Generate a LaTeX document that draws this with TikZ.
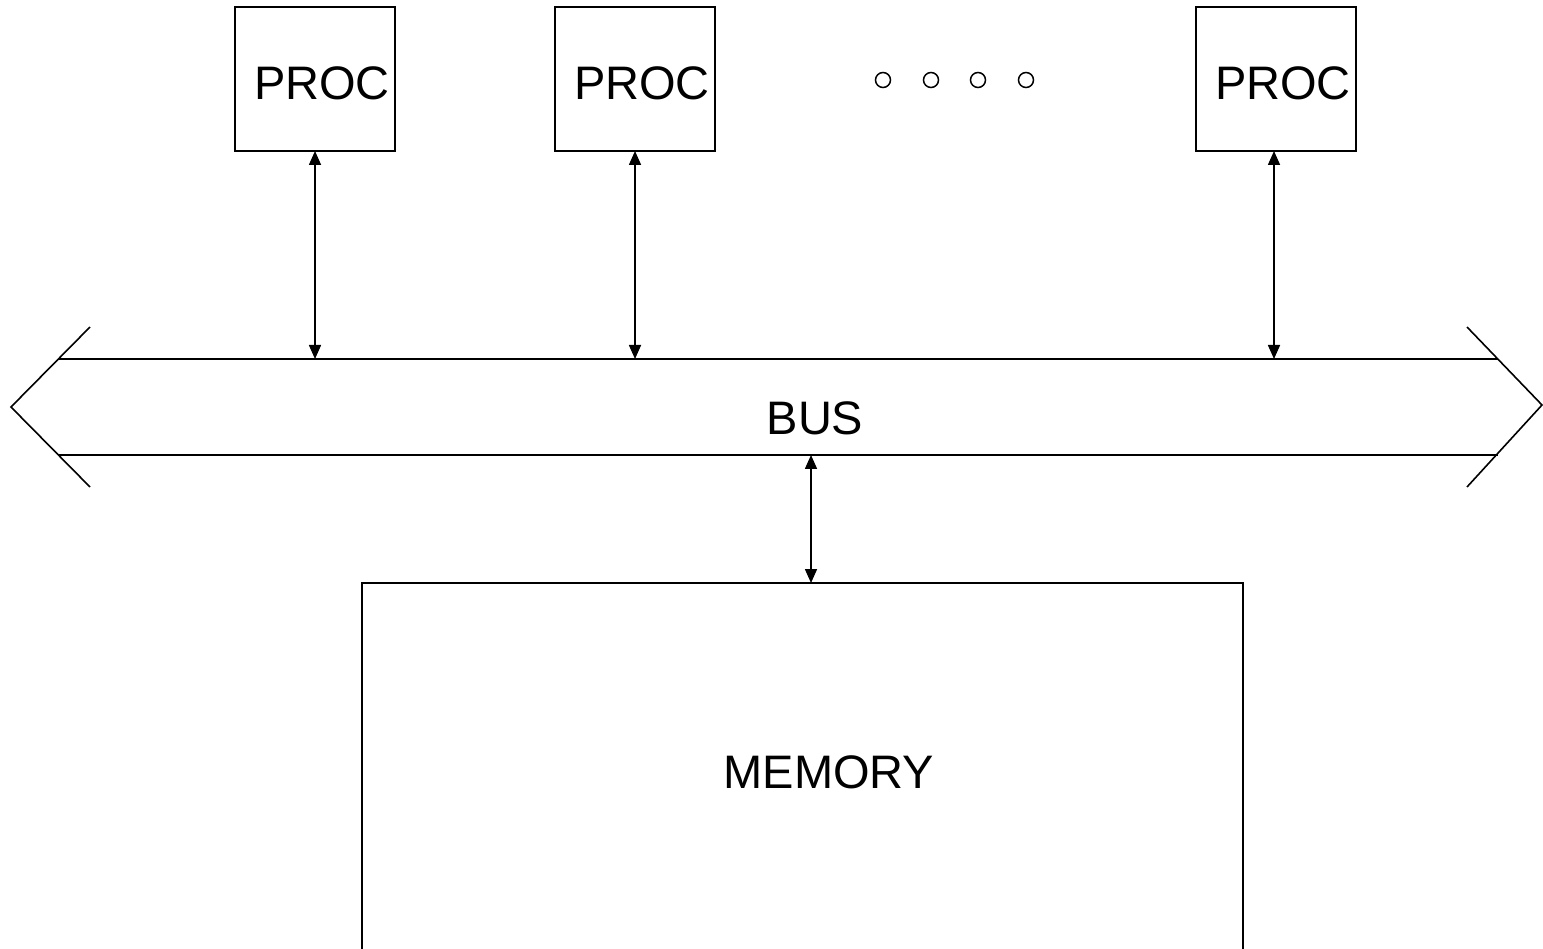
\documentclass[tikz,border=0pt]{standalone}
\usepackage{fontspec}
\setmainfont{Liberation Sans}
\usetikzlibrary{arrows.meta}
\begin{document}
\begin{tikzpicture}[x=1pt,y=-1pt,
  line width=1.6pt,
  lbl/.style={font=\fontsize{47}{50}\selectfont, inner sep=0pt},
  box/.style={draw, line width=1.6pt},
  link/.style={line width=1.6pt, {Triangle[length=14pt,width=12pt]}-{Triangle[length=14pt,width=12pt]}}]
\useasboundingbox (0,0) rectangle (1543,949);
% processor boxes
\draw[box] (235,7) rectangle (395,151);
\draw[box] (555,7) rectangle (715,151);
\draw[box] (1196,7) rectangle (1356,151);
\node[lbl] (p1) at (322,83) {PROC};
\node[lbl] (p2) at (642,83) {PROC};
\node[lbl] (p3) at (1283,83) {PROC};
\coordinate (p1b) at (315,151);
\coordinate (p2b) at (635,151);
\coordinate (p3b) at (1274,151);
% dots
\foreach \x in {883,931,978,1026} \draw[line width=1.5pt] (\x,80) circle (7.5);
% bus
\draw (58,359) -- (1498,359);
\draw (58,455) -- (1498,455);
\draw (90,327) -- (11,407) -- (90,487);
\draw (1467,327) -- (1542,405) -- (1467,487);
\node[lbl] (bus) at (815,418) {BUS};
\coordinate (b1) at (315,359);
\coordinate (b2) at (635,359);
\coordinate (b3) at (1274,359);
\coordinate (b4) at (811,455);
% memory
\draw[box] (362,960) -- (362,583) -- (1243,583) -- (1243,960);
\node[lbl] (mem) at (829,772) {MEMORY};
\coordinate (mt) at (811,583);
% links
\draw[link] (p1b) -- (b1);
\draw[link] (p2b) -- (b2);
\draw[link] (p3b) -- (b3);
\draw[link] (b4) -- (mt);
\end{tikzpicture}
\end{document}
